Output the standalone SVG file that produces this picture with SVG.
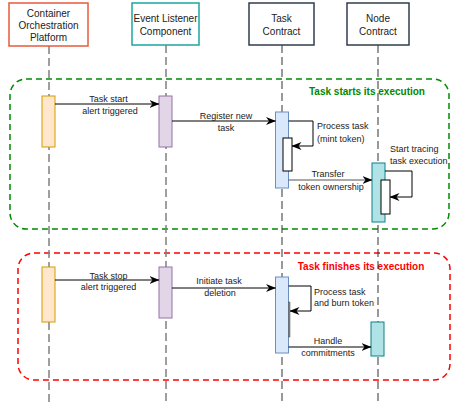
<svg xmlns="http://www.w3.org/2000/svg" width="452" height="402" viewBox="0 0 452 402">
<defs>
<marker id="arr" viewBox="0 0 10 8" refX="9.5" refY="4" markerWidth="10" markerHeight="8" markerUnits="userSpaceOnUse" orient="auto">
<path d="M0,0 L10,4 L0,8 L3,4 z" fill="#000"/>
</marker>
<style>
text{font-family:"Liberation Sans",Arial,sans-serif;font-size:9px;fill:#222;}
.hd{font-size:10px;text-anchor:middle;}
.c{text-anchor:middle;}
.life{stroke-dasharray:8 4;fill:none;}
.msg{stroke:#000;stroke-width:1;fill:none;marker-end:url(#arr);}
.act-o{fill:#ffe6cc;stroke:#d79b00;}
.act-p{fill:#e1d5e7;stroke:#9673a6;}
.act-b{fill:#dae8fc;stroke:#6c8ebf;}
.act-t{fill:#b0e3e6;stroke:#0e8088;}
.act-w{fill:#fff;stroke:#000;}
.title{font-size:10px;font-weight:bold;text-anchor:middle;}
</style>
</defs>
<rect width="452" height="402" fill="#fff"/>
<g id="frames">
<rect x="10" y="79" width="439" height="150" rx="16" fill="none" stroke="#008a00" stroke-width="1.5" stroke-dasharray="6 4"/>
<rect x="18" y="253" width="432" height="127" rx="16" fill="none" stroke="#ff0000" stroke-width="1.5" stroke-dasharray="6 4"/>
<text class="title" x="367" y="95" style="fill:#008a00">Task starts its execution</text>
<text class="title" x="361" y="269.5" style="fill:#ff0000">Task finishes its execution</text>
</g>
<g id="lifelines">
<line class="life" x1="49" y1="46" x2="49" y2="402" stroke="#808080" stroke-width="1.5"/>
<line class="life" x1="166" y1="45" x2="166" y2="402" stroke="#808080" stroke-width="1.5"/>
<line class="life" x1="282" y1="45" x2="282" y2="402" stroke="#333" stroke-width="1"/>
<line class="life" x1="378" y1="45" x2="378" y2="402" stroke="#333" stroke-width="1"/>
</g>
<g id="platform">
<rect x="9" y="3" width="79" height="43" fill="#fff" stroke="#e85a3c" stroke-width="1.5"/>
<text class="hd" x="48.5" y="17">Container</text>
<text class="hd" x="48.5" y="29">Orchestration</text>
<text class="hd" x="48.5" y="41">Platform</text>
</g>
<g id="listener">
<rect x="132" y="3" width="67" height="42" fill="#fff" stroke="#1aa6a0" stroke-width="1.5"/>
<text class="hd" x="165.5" y="22">Event Listener</text>
<text class="hd" x="165.5" y="35">Component</text>
</g>
<g id="task">
<rect x="249" y="3" width="65" height="42" fill="#fff" stroke="#2f3e4e" stroke-width="1.5"/>
<text class="hd" x="281.5" y="22">Task</text>
<text class="hd" x="281.5" y="35">Contract</text>
</g>
<g id="node">
<rect x="347" y="3" width="62" height="42" fill="#fff" stroke="#2f3e4e" stroke-width="1.5"/>
<text class="hd" x="378" y="22">Node</text>
<text class="hd" x="378" y="35">Contract</text>
</g>
<g id="activations">
<rect class="act-o" x="42" y="96" width="13" height="51"/>
<rect class="act-p" x="159" y="96" width="13" height="51"/>
<rect class="act-b" x="275.5" y="112" width="13" height="76"/>
<rect class="act-w" x="283" y="138" width="9" height="33"/>
<rect class="act-t" x="372" y="163" width="13" height="59"/>
<rect class="act-w" x="381" y="180" width="9" height="34"/>
<rect class="act-o" x="42" y="267" width="13" height="55"/>
<rect class="act-p" x="159" y="267" width="13" height="51"/>
<rect class="act-b" x="275.5" y="277" width="13" height="76"/>
<rect x="288.5" y="302" width="1.5" height="35" fill="#888" stroke="#555" stroke-width="0.5"/>
<rect class="act-t" x="371" y="322" width="13" height="34"/>
</g>
<g id="connectors">
<line class="msg" x1="55" y1="104" x2="159" y2="104"/>
<line class="msg" x1="172" y1="121" x2="275.5" y2="121"/>
<polyline class="msg" points="288.5,121 313,121 313,146 292,146"/>
<line class="msg" x1="288.5" y1="180" x2="372" y2="180" style="stroke:#555"/>
<polyline class="msg" points="385,171 412,171 412,197 390,197"/>
<line class="msg" x1="55" y1="280" x2="159" y2="280"/>
<line class="msg" x1="172" y1="288" x2="275.5" y2="288"/>
<polyline class="msg" points="288.5,286 311,286 311,311 290,311"/>
<line class="msg" x1="288.5" y1="347" x2="371" y2="347"/>
</g>
<g id="labels">
<text class="c" x="108.5" y="101.5">Task start</text>
<text class="c" x="110" y="114">alert triggered</text>
<text class="c" x="226" y="119">Register new</text>
<text class="c" x="226" y="130.5">task</text>
<text x="317" y="129">Process task</text>
<text x="317" y="141.5">(mint token)</text>
<text class="c" x="328" y="177">Transfer</text>
<text class="c" x="331" y="190">token ownership</text>
<text x="390" y="152">Start tracing</text>
<text x="390" y="163.5">task execution</text>
<text class="c" x="108.5" y="278.5">Task stop</text>
<text class="c" x="108.5" y="290">alert triggered</text>
<text class="c" x="219" y="283.5">Initiate task</text>
<text class="c" x="220" y="296">deletion</text>
<text x="314" y="294.5">Process task</text>
<text x="314" y="306">and burn token</text>
<text class="c" x="328" y="344">Handle</text>
<text class="c" x="328" y="356">commitments</text>
</g>
</svg>
